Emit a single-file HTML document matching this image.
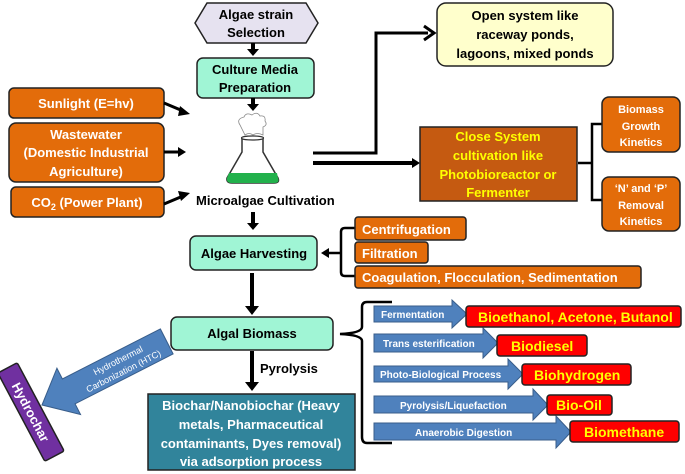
<!DOCTYPE html>
<html><head><meta charset="utf-8"><style>
body{margin:0;background:#fff;}
svg{display:block;font-family:"Liberation Sans",Arial,sans-serif;font-weight:bold;}
</style></head><body>
<svg width="685" height="474" viewBox="0 0 685 474" xmlns="http://www.w3.org/2000/svg">
<!-- hexagon -->
<polygon points="207,3 306,3 318,23 306,43 207,43 195,23" fill="#e6e2f0" stroke="#222" stroke-width="1.5"/>
<text x="256" y="19" font-size="13" text-anchor="middle">Algae strain</text>
<text x="256" y="37" font-size="13" text-anchor="middle">Selection</text>
<line x1="253" y1="43" x2="253" y2="50" stroke="#000" stroke-width="4"/>
<polygon points="247,49 259,49 253,56" fill="#000"/>
<rect x="197" y="58" width="117" height="40" rx="6" fill="#a0f5d5" stroke="#222" stroke-width="1.5"/>
<text x="255" y="74" font-size="13" text-anchor="middle">Culture Media</text>
<text x="255" y="92" font-size="13" text-anchor="middle">Preparation</text>
<line x1="253" y1="98" x2="253" y2="105" stroke="#000" stroke-width="4"/>
<polygon points="247,104 259,104 253,111" fill="#000"/>
<!-- flask -->
<path d="M240,125 q-4,-6 4,-8 q2,-5 8,-2 q5,-4 8,1 q6,-1 5,5 q3,4 -2,6 l0,8 q-6,-3 -10,0 q-4,-3 -8,0z" fill="#fff" stroke="#888" stroke-width="0.8"/>
<path d="M242,138 L242,152 L227,178 Q226,183 232,183 L274,183 Q280,183 278,178 L263,152 L263,138 Z" fill="#fff" stroke="#333" stroke-width="1.5"/>
<ellipse cx="252.5" cy="138" rx="11" ry="2" fill="#fff" stroke="#333" stroke-width="1.2"/>
<path d="M229,173 L277,173 L278,178 Q280,183 274,183 L232,183 Q226,183 227,178 Z" fill="#22b14c"/>
<text x="196" y="205" font-size="13">Microalgae Cultivation</text>
<line x1="253" y1="212" x2="253" y2="224" stroke="#000" stroke-width="4"/>
<polygon points="247,223 259,223 253,230" fill="#000"/>
<!-- left inputs -->
<rect x="9" y="88" width="155" height="30" rx="5" fill="#e36c0a" stroke="#222" stroke-width="1.5"/>
<text x="86" y="108" font-size="13" fill="#fff" text-anchor="middle">Sunlight (E=hv)</text>
<rect x="9" y="123" width="155" height="59" rx="7" fill="#e36c0a" stroke="#222" stroke-width="1.5"/>
<text x="86" y="139" font-size="13" fill="#fff" text-anchor="middle">Wastewater</text>
<text x="86" y="157" font-size="13" fill="#fff" text-anchor="middle">(Domestic Industrial</text>
<text x="86" y="176" font-size="13" fill="#fff" text-anchor="middle">Agriculture)</text>
<rect x="11" y="187" width="153" height="30" rx="5" fill="#e36c0a" stroke="#222" stroke-width="1.5"/>
<text x="87" y="207" font-size="13" fill="#fff" text-anchor="middle">CO<tspan font-size="9" dy="3">2</tspan><tspan dy="-3"> (Power Plant)</tspan></text>
<line x1="164" y1="103" x2="183" y2="111" stroke="#000" stroke-width="3"/>
<polygon points="190,114 180,106 178,116" fill="#000"/>
<line x1="164" y1="152" x2="180" y2="152" stroke="#000" stroke-width="3"/>
<polygon points="186,152 178,147 178,157" fill="#000"/>
<line x1="164" y1="204" x2="183" y2="196" stroke="#000" stroke-width="3"/>
<polygon points="190,193 178,191 181,201" fill="#000"/>
<!-- cultivation lines -->
<polyline points="313,153 376,153 376,33 428,33" fill="none" stroke="#000" stroke-width="3"/>
<path d="M424,26 L434,33 L424,40" fill="none" stroke="#000" stroke-width="3"/>
<line x1="313" y1="163" x2="414" y2="163" stroke="#000" stroke-width="4"/>
<polygon points="412,158 420,163 412,168" fill="#000"/>
<rect x="437" y="3" width="176" height="63" rx="9" fill="#ffffcc" stroke="#222" stroke-width="1.5"/>
<text x="525" y="20" font-size="13" text-anchor="middle">Open system like</text>
<text x="525" y="39" font-size="13" text-anchor="middle">raceway ponds,</text>
<text x="525" y="58" font-size="13" text-anchor="middle">lagoons, mixed ponds</text>
<rect x="420" y="127" width="157" height="74" fill="#c55a11" stroke="#222" stroke-width="1.5"/>
<g font-size="13" fill="#ffff00" text-anchor="middle">
<text x="498" y="141">Close System</text><text x="498" y="160">cultivation like</text><text x="498" y="179">Photobioreactor or</text><text x="498" y="197">Fermenter</text></g>
<path d="M602,124 L592,124 L592,200 L602,200 M578,163 L592,163" fill="none" stroke="#000" stroke-width="2.5"/>
<rect x="602" y="97" width="78" height="55" rx="7" fill="#e36c0a" stroke="#222" stroke-width="1.5"/>
<g font-size="11" fill="#fff" text-anchor="middle"><text x="641" y="113">Biomass</text><text x="641" y="130">Growth</text><text x="641" y="146">Kinetics</text></g>
<rect x="602" y="177" width="78" height="54" rx="7" fill="#e36c0a" stroke="#222" stroke-width="1.5"/>
<g font-size="11" fill="#fff" text-anchor="middle"><text x="641" y="192">‘N’ and ‘P’</text><text x="641" y="209">Removal</text><text x="641" y="225">Kinetics</text></g>
<!-- harvesting -->
<rect x="190" y="236" width="127" height="34" rx="6" fill="#a0f5d5" stroke="#222" stroke-width="1.5"/>
<text x="254" y="258" font-size="13" text-anchor="middle">Algae Harvesting</text>
<path d="M355,228 L345,228 Q341,228 341,232 L341,272 Q341,276 345,276 L355,276 M341,253 L328,253" fill="none" stroke="#000" stroke-width="2.5"/>
<polygon points="321,253 329,248 329,258" fill="#000"/>
<rect x="355" y="217" width="111" height="23" rx="3" fill="#e36c0a" stroke="#222" stroke-width="1.5"/>
<text x="362" y="234" font-size="13" fill="#fff">Centrifugation</text>
<rect x="355" y="242" width="73" height="21" rx="3" fill="#e36c0a" stroke="#222" stroke-width="1.5"/>
<text x="362" y="258" font-size="13" fill="#fff">Filtration</text>
<rect x="355" y="266" width="286" height="22" rx="3" fill="#e36c0a" stroke="#222" stroke-width="1.5"/>
<text x="362" y="282" font-size="13" fill="#fff">Coagulation, Flocculation, Sedimentation</text>
<line x1="252" y1="273" x2="252" y2="308" stroke="#000" stroke-width="4"/>
<polygon points="245,306 259,306 252,315" fill="#000"/>
<rect x="171" y="317" width="162" height="33" rx="6" fill="#a0f5d5" stroke="#222" stroke-width="1.5"/>
<text x="252" y="338" font-size="13" text-anchor="middle">Algal Biomass</text>
<line x1="252" y1="351" x2="252" y2="384" stroke="#000" stroke-width="4"/>
<polygon points="245,382 259,382 252,391" fill="#000"/>
<text x="260" y="373" font-size="13">Pyrolysis</text>
<rect x="148" y="394" width="207" height="76" fill="#31849b" stroke="#222" stroke-width="1.5"/>
<g font-size="13" fill="#fff" text-anchor="middle"><text x="251" y="410">Biochar/Nanobiochar (Heavy</text><text x="251" y="429">metals, Pharmaceutical</text><text x="251" y="448">contaminants, Dyes removal)</text><text x="251" y="466">via adsorption process</text></g>
<!-- HTC arrow -->
<g transform="translate(42,405) rotate(-27)">
<polygon points="0,0 30,-26 30,-14 140,-14 140,14 30,14 30,26" fill="#4f81bd" stroke="#385d8a" stroke-width="1"/>
<text x="88" y="-2" font-size="9" fill="#fff" font-weight="normal" text-anchor="middle">Hydrothermal</text>
<text x="88" y="10" font-size="9" fill="#fff" font-weight="normal" text-anchor="middle">Carbonization (HTC)</text>
</g>
<g transform="translate(31,412) rotate(62)">
<rect x="-50" y="-11" width="100" height="22" rx="2" fill="#7030a0" stroke="#222" stroke-width="1.5"/>
<text x="0" y="5" font-size="13" fill="#fff" text-anchor="middle">Hydrochar</text>
</g>
<!-- brace -->
<path d="M392,302 L367,302 Q362,302 362,307 L362,327 Q362,333 340,334 Q362,335 362,341 L362,437 Q362,443 367,443 L392,443" fill="none" stroke="#000" stroke-width="2.5"/>
<!-- process arrows -->
<g font-size="10" fill="#fff">
<polygon points="374,306 452,306 452,300 467,314 452,328 452,322 374,322" fill="#4f81bd" stroke="#385d8a"/>
<text x="381" y="318">Fermentation</text>
<polygon points="374,334 483,334 483,328 498,343 483,358 483,352 374,352" fill="#4f81bd" stroke="#385d8a"/>
<text x="383" y="347">Trans esterification</text>
<polygon points="374,366 508,366 508,359 523,374 508,389 508,382 374,382" fill="#4f81bd" stroke="#385d8a"/>
<text x="380" y="378">Photo-Biological Process</text>
<polygon points="374,396 533,396 533,389 548,405 533,420 533,413 374,413" fill="#4f81bd" stroke="#385d8a"/>
<text x="400" y="409">Pyrolysis/Liquefaction</text>
<polygon points="374,423 556,423 556,416 571,432 556,448 556,440 374,440" fill="#4f81bd" stroke="#385d8a"/>
<text x="415" y="436">Anaerobic Digestion</text>
</g>
<g font-size="14" fill="#ffff00">
<rect x="466" y="306" width="215" height="21" rx="3" fill="#ff0000" stroke="#222" stroke-width="1.5"/>
<text x="478" y="322">Bioethanol, Acetone, Butanol</text>
<rect x="497" y="335" width="90" height="21" rx="3" fill="#ff0000" stroke="#222" stroke-width="1.5"/>
<text x="511" y="351">Biodiesel</text>
<rect x="522" y="364" width="109" height="21" rx="3" fill="#ff0000" stroke="#222" stroke-width="1.5"/>
<text x="534" y="380">Biohydrogen</text>
<rect x="547" y="395" width="65" height="20" rx="3" fill="#ff0000" stroke="#222" stroke-width="1.5"/>
<text x="556" y="410">Bio-Oil</text>
<rect x="570" y="421" width="109" height="21" rx="3" fill="#ff0000" stroke="#222" stroke-width="1.5"/>
<text x="584" y="437">Biomethane</text>
</g>
</svg>
</body></html>
